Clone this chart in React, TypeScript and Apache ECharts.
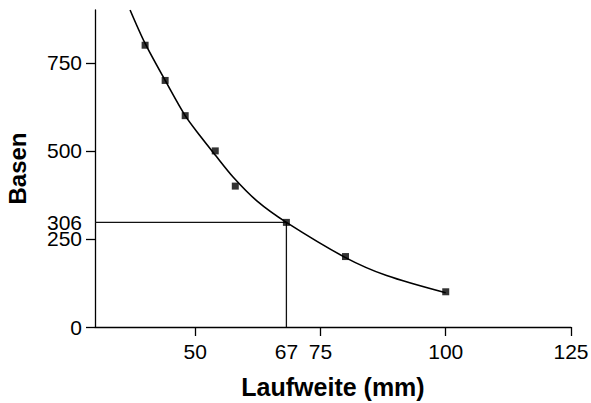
import React, { useEffect, useRef } from "react";
import * as echarts from "echarts";

const markerX = [40, 44, 48, 54, 58, 68.2, 80, 100];
const markerY = [800, 700, 600, 500, 400, 297, 200, 100];

const curveX = [37, 40, 44.2, 48, 51, 54, 57.6, 62.3, 68.2, 80, 88.2, 100];
const curveY = [900, 805, 695, 600, 542, 488, 425, 358, 297, 197, 146, 97];

// intersection lines as drawn in the picture, with their printed labels
const refX = 68.2;
const refY = 297;
const refXLabel = "67";
const refYLabel = "306";

const xTicks = [50, 75, 100, 125];
const xLabelValues = [50, refX, 75, 100, 125];
const yTicks = [0, 250, 500, 750];
const yLabelValues = [0, 250, refY, 500, 750];

const FONT = "'Liberation Sans', Arial, Helvetica, sans-serif";

export default function App() {
  const ref = useRef<HTMLDivElement>(null);
  useEffect(() => {
    const chart = echarts.init(ref.current!, null, { renderer: "svg" });
    chart.setOption({
      animation: false,
      backgroundColor: "#ffffff",
      grid: { left: 95, right: 20, top: 10, bottom: 76, outerBoundsMode: "none" },
      xAxis: {
        type: "value",
        min: 30,
        max: 125,
        name: "Laufweite (mm)",
        nameLocation: "middle",
        nameGap: 47,
        nameTextStyle: { fontFamily: FONT, fontSize: 25, fontWeight: "bold", color: "#000" },
        splitLine: { show: false },
        axisLine: { show: true, onZero: false, lineStyle: { color: "#000", width: 1.3 } },
        axisTick: { show: true, length: 9, customValues: xTicks, lineStyle: { color: "#000", width: 1.3 } },
        axisLabel: {
          customValues: xLabelValues,
          formatter: (v: number) => (v === refX ? refXLabel : String(v)),
          margin: 14,
          fontFamily: FONT,
          fontSize: 21,
          color: "#000",
        },
      },
      yAxis: {
        type: "value",
        min: 0,
        max: 900,
        name: "Basen",
        nameLocation: "middle",
        nameGap: 66,
        nameTextStyle: { fontFamily: FONT, fontSize: 24, fontWeight: "bold", color: "#000" },
        splitLine: { show: false },
        axisLine: { show: true, onZero: false, lineStyle: { color: "#000", width: 1.3 } },
        axisTick: { show: true, length: 9, customValues: yTicks, lineStyle: { color: "#000", width: 1.3 } },
        axisLabel: {
          customValues: yLabelValues,
          formatter: (v: number) => (v === refY ? refYLabel : String(v)),
          margin: 13,
          fontFamily: FONT,
          fontSize: 21,
          lineHeight: 16,
          color: "#000",
        },
      },
      series: [
        {
          type: "line",
          data: curveX.map((x, i) => [x, curveY[i]]),
          smooth: 0.3,
          showSymbol: false,
          symbol: "none",
          lineStyle: { color: "#000", width: 1.6 },
          clip: true,
          z: 3,
        },
        {
          type: "line",
          data: [[30, refY], [refX, refY], [refX, 0]],
          showSymbol: false,
          symbol: "none",
          lineStyle: { color: "#111", width: 1.3 },
          z: 2,
        },
        {
          type: "scatter",
          data: markerX.map((x, i) => [x, markerY[i]]),
          symbol: "rect",
          symbolSize: 7,
          itemStyle: { color: "#000" },
          z: 4,
        },
      ],
    });
    return () => chart.dispose();
  }, []);
  return (
    <div
      ref={ref}
      style={{ position: "fixed", left: 0, top: 0, width: 591, height: 403, background: "#fff" }}
    />
  );
}
